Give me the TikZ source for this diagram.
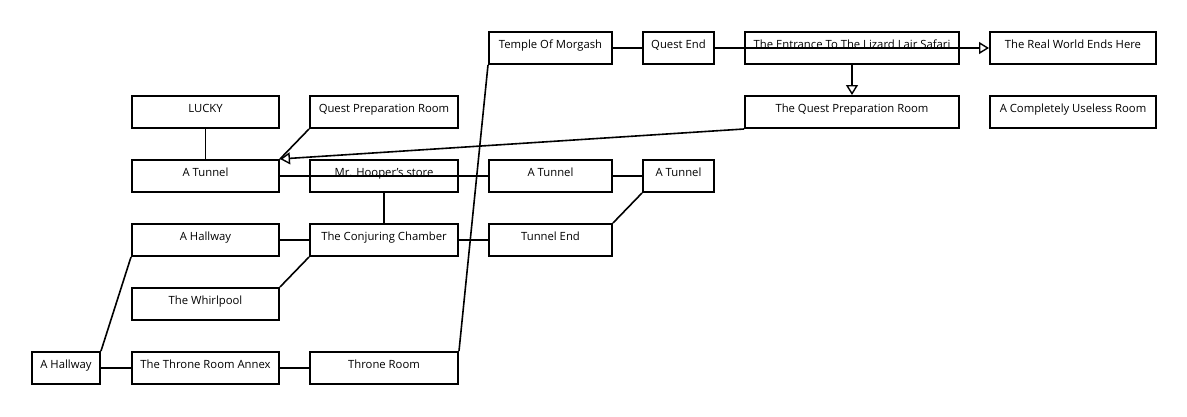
\documentclass[tikz,border=0pt]{standalone}
\usepackage{fontspec}
\setmainfont{Open Sans}
\usetikzlibrary{arrows.meta}
\tikzset{
  room/.style={draw, line width=2pt, inner sep=0pt, font=\fontsize{11.3}{13}\selectfont, text height=8pt, text depth=6.5pt},
  link/.style={line width=1.6pt},
  opentip/.style={-{Triangle[open, length=10pt, width=12pt, line width=1.4pt]}}
}
\newcommand{\roombox}[6]{%
  \node[room, minimum width={(#4-#2)*1pt}, minimum height={(#5-#3)*1pt}] (#1) at ({(#2+#4)/2},{(#3+#5)/2}) {#6};}
\begin{document}
\begin{tikzpicture}[x=1pt,y=-1pt]
\useasboundingbox (0,0) rectangle (1187,416);
\roombox{lucky}{132}{96}{279}{128}{LUCKY}
\roombox{qpr}{310}{96}{458}{128}{Quest Preparation Room}
\roombox{tunL}{132}{160}{279}{192}{A Tunnel}
\roombox{hooper}{310}{160}{458}{192}{Mr. Hooper's store}
\roombox{hallA}{132}{224}{279}{256}{A Hallway}
\roombox{conj}{310}{224}{458}{256}{The Conjuring Chamber}
\roombox{whirl}{132}{288}{279}{320}{The Whirlpool}
\roombox{hallL}{32}{352}{100}{384}{A Hallway}
\roombox{annex}{132}{352}{279}{384}{The Throne Room Annex}
\roombox{throne}{310}{352}{458}{384}{Throne Room}
\roombox{temple}{489}{32}{612}{64}{Temple Of Morgash}
\roombox{qend}{643}{32}{714}{64}{Quest End}
\roombox{entr}{745}{32}{959}{64}{The Entrance To The Lizard Lair Safari}
\roombox{tqpr}{745}{96}{959}{128}{The Quest Preparation Room}
\roombox{tunM}{489}{160}{612}{192}{A Tunnel}
\roombox{tunR}{643}{160}{714}{192}{A Tunnel}
\roombox{tend}{489}{224}{612}{256}{Tunnel End}
\roombox{real}{990}{32}{1156}{64}{The Real World Ends Here}
\roombox{useless}{990}{96}{1156}{128}{A Completely Useless Room}

\draw[link] (lucky.south) -- (tunL.north);
\draw[link] (qpr.south west) -- (tunL.north east);
\draw[link,opentip] (tqpr.south west) -- (tunL.north east);
\draw[link] (tunL.east) -- (tunM.west);
\draw[link] (tunM.east) -- (tunR.west);
\draw[link] (tunR.south west) -- (tend.north east);
\draw[link] (hooper.south) -- (conj.north);
\draw[link] (hallA.east) -- (conj.west);
\draw[link] (conj.east) -- (tend.west);
\draw[link] (whirl.north east) -- (conj.south west);
\draw[link] (hallL.north east) -- (hallA.south west);
\draw[link] (hallL.east) -- (annex.west);
\draw[link] (annex.east) -- (throne.west);
\draw[link] (throne.north east) -- (temple.south west);
\draw[link] (temple.east) -- (qend.west);
\draw[link,opentip] (qend.east) -- (real.west);
\draw[link,opentip] (entr.south) -- (tqpr.north);
\end{tikzpicture}
\end{document}
